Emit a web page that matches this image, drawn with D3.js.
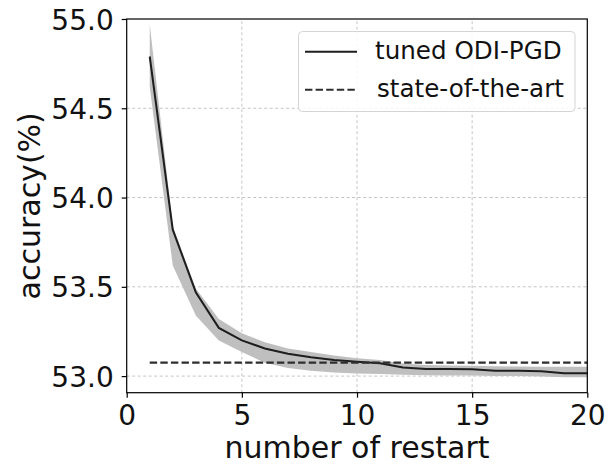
<!DOCTYPE html>
<html>
<head>
<meta charset="utf-8">
<script src="https://cdn.jsdelivr.net/npm/d3@7"></script>
<style>
  body { margin: 0; background: #fff; }
  svg { display: block; font-family: "DejaVu Sans", sans-serif; }
</style>
</head>
<body>
<svg id="chart" width="610" height="465"></svg>
<script>
// values
const restarts = d3.range(1, 21);
const meanAcc = [54.79, 53.82, 53.47, 53.27, 53.20, 53.155, 53.125, 53.105, 53.09, 53.08,
                 53.072, 53.048, 53.04, 53.04, 53.038, 53.03, 53.03, 53.027, 53.016, 53.016];
const upperAcc = [54.97, 53.84, 53.49, 53.32, 53.24, 53.19, 53.155, 53.135, 53.115, 53.10,
                  53.09, 53.07, 53.062, 53.06, 53.058, 53.055, 53.054, 53.053, 53.052, 53.052];
const lowerAcc = [54.62, 53.62, 53.34, 53.20, 53.135, 53.075, 53.045, 53.03, 53.02, 53.015,
                  53.012, 53.008, 53.005, 53.004, 53.003, 53.0, 53.0, 52.998, 52.993, 52.993];
const sotaAcc = 53.076;
const xTicks = [0, 5, 10, 15, 20];
const yTicks = [53.0, 53.5, 54.0, 54.5, 55.0];
const legendLabels = ["tuned ODI-PGD", "state-of-the-art"];

const svg = d3.select("#chart");
const margin = { left: 126.7, right: 610 - 587.3, top: 19, bottom: 465 - 392.7 };
const W = 610, H = 465;

const x = d3.scaleLinear().domain([0, 20]).range([margin.left, W - margin.right]);
const y = d3.scaleLinear().domain([52.907, 55.0]).range([H - margin.bottom, margin.top]);

const rows = restarts.map((r, i) => ({ r, m: meanAcc[i], hi: upperAcc[i], lo: lowerAcc[i] }));

// grid
const grid = svg.append("g").attr("stroke", "#c4c4c4").attr("stroke-width", 1)
  .attr("stroke-dasharray", "3,2.5");
grid.selectAll("line.gx").data(xTicks.slice(1, -1)).enter().append("line")
  .attr("x1", d => x(d)).attr("x2", d => x(d))
  .attr("y1", y.range()[0]).attr("y2", y.range()[1]);
grid.selectAll("line.gy").data(yTicks.slice(0, -1)).enter().append("line")
  .attr("y1", d => y(d)).attr("y2", d => y(d))
  .attr("x1", x.range()[0]).attr("x2", x.range()[1]);

// std band
svg.append("path")
  .datum(rows)
  .attr("fill", "#bfbfbf")
  .attr("d", d3.area().x(d => x(d.r)).y0(d => y(d.lo)).y1(d => y(d.hi)));

// mean line
svg.append("path")
  .datum(rows)
  .attr("fill", "none")
  .attr("stroke", "#1e1e1e")
  .attr("stroke-width", 2)
  .attr("d", d3.line().x(d => x(d.r)).y(d => y(d.m)));

// state of the art
svg.append("line")
  .attr("x1", x(1)).attr("x2", x(20))
  .attr("y1", y(sotaAcc)).attr("y2", y(sotaAcc))
  .attr("stroke", "#2e2e2e")
  .attr("stroke-width", 2.2)
  .attr("stroke-dasharray", "7.4,3.2");

// axes
const xAxis = svg.append("g")
  .attr("transform", `translate(0,${y.range()[0]})`)
  .call(d3.axisBottom(x).tickValues(xTicks).tickSize(5).tickPadding(8).tickFormat(d3.format("d")));
const yAxis = svg.append("g")
  .attr("transform", `translate(${x.range()[0]},0)`)
  .call(d3.axisLeft(y).tickValues(yTicks).tickSize(5).tickPadding(8).tickFormat(d3.format(".1f")));

[xAxis, yAxis].forEach(g => {
  g.select(".domain").remove();
  g.selectAll("line").attr("stroke", "#000").attr("stroke-width", 1.2);
  g.selectAll("text").attr("font-size", 28).attr("fill", "#111")
    .attr("font-family", "DejaVu Sans");
});
xAxis.selectAll("text").attr("dy", null).attr("y", 32);
yAxis.selectAll("text").attr("dy", "0.36em");

// frame
svg.append("rect")
  .attr("x", x.range()[0]).attr("y", y.range()[1])
  .attr("width", x.range()[1] - x.range()[0])
  .attr("height", y.range()[0] - y.range()[1])
  .attr("fill", "none").attr("stroke", "#000").attr("stroke-width", 1.2);

// axis labels
svg.append("text")
  .attr("x", (x.range()[0] + x.range()[1]) / 2).attr("y", 458)
  .attr("text-anchor", "middle").attr("font-size", 30).attr("fill", "#111")
  .text("number of restart");
svg.append("text")
  .attr("transform", `translate(40,${(y.range()[0] + y.range()[1]) / 2}) rotate(-90)`)
  .attr("text-anchor", "middle").attr("font-size", 30).attr("fill", "#111")
  .text("accuracy(%)");

// legend
const legend = svg.append("g");
legend.append("rect")
  .attr("x", 298.5).attr("y", 31.5).attr("width", 276.5).attr("height", 80)
  .attr("rx", 4)
  .attr("fill", "#fff").attr("fill-opacity", 0.85)
  .attr("stroke", "#d4d4d4").attr("stroke-width", 1);
const items = legend.selectAll("g.item").data(legendLabels).enter().append("g")
  .attr("transform", (d, i) => `translate(0,${59.3 + i * 38})`);
items.append("line")
  .attr("x1", 305).attr("x2", 357).attr("y1", -7.5).attr("y2", -7.5)
  .attr("stroke", (d, i) => i === 0 ? "#1e1e1e" : "#2e2e2e")
  .attr("stroke-width", 2)
  .attr("stroke-dasharray", (d, i) => i === 0 ? null : "7.4,3.2");
items.append("text")
  .attr("x", (d, i) => i === 0 ? 375 : 377).attr("y", 0)
  .attr("font-size", 24.6).attr("fill", "#111")
  .text(d => d);
</script>
</body>
</html>
